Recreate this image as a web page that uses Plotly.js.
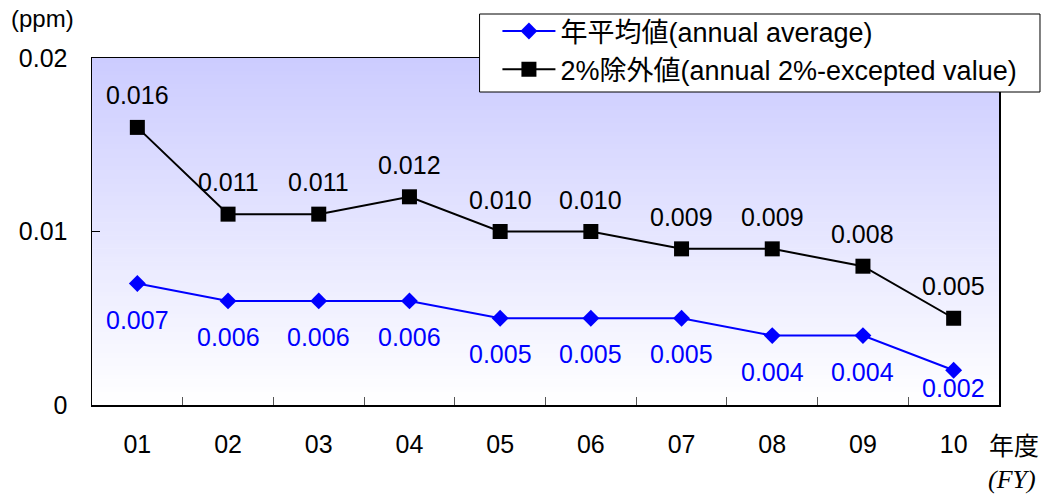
<!DOCTYPE html>
<html>
<head>
<meta charset="utf-8">
<script src="https://cdn.plot.ly/plotly-3.0.1.min.js"></script>
<style>
html,body{margin:0;padding:0;background:#fff;}
#chart{width:1046px;height:494px;}
</style>
</head>
<body>
<div id="chart"></div>
<script>
// ---- data ----
const years = ['01','02','03','04','05','06','07','08','09','10'];
const annualAverage = [0.007, 0.006, 0.006, 0.006, 0.005, 0.005, 0.005, 0.004, 0.004, 0.002];
const excepted2pct = [0.016, 0.011, 0.011, 0.012, 0.010, 0.010, 0.009, 0.009, 0.008, 0.005];
const seriesNames = ['年平均値(annual average)', '2%除外値(annual 2%-excepted value)'];
const yTickVals = [0, 0.01, 0.02];
const yTickText = ['0', '0.01', '0.02'];

const FONT = '"Liberation Sans", Arial, "Noto Sans CJK JP", sans-serif';
const FS = 25;

const traces = [
  {
    x: years, y: annualAverage, name: seriesNames[0],
    type: 'scatter', mode: 'lines+markers',
    line: {color: '#0000ff', width: 2},
    marker: {symbol: 'diamond', size: 13, color: '#0000ff'},
    hoverinfo: 'skip'
  },
  {
    x: years, y: excepted2pct, name: seriesNames[1],
    type: 'scatter', mode: 'lines+markers',
    line: {color: '#000000', width: 2},
    marker: {symbol: 'square', size: 15, color: '#000000'},
    hoverinfo: 'skip'
  }
];

// background gradient strips (plot area)
const shapes = [];
const N = 80;
function mix(a, b, t){ return Math.round(a + (b - a) * t); }
for (let i = 0; i < N; i++) {
  const t = i / (N - 1); // 0 bottom -> 1 top
  const r = mix(255, 204, t), g = mix(255, 204, t), b = 255;
  shapes.push({
    type: 'rect', xref: 'x domain', yref: 'y domain', layer: 'below',
    x0: 0, x1: 1, y0: i / N, y1: (i + 1) / N + 0.002,
    fillcolor: `rgb(${r},${g},${b})`, line: {width: 0}
  });
}
// legend frame
shapes.push({
  type: 'rect', xref: 'paper', yref: 'paper', layer: 'above',
  x0: 0.4273, x1: 1.0452, y0: 0.902, y1: 1.1268,
  fillcolor: '#ffffff', line: {color: '#000000', width: 1}
});

const annotations = [];
annualAverage.forEach((v, i) => {
  annotations.push({
    x: i, y: v, xref: 'x', yref: 'y', text: v.toFixed(3),
    showarrow: false, yshift: (i === annualAverage.length - 1) ? -18 : -36,
    font: {family: FONT, size: FS, color: '#0000ff'}
  });
});
excepted2pct.forEach((v, i) => {
  annotations.push({
    x: i, y: v, xref: 'x', yref: 'y', text: v.toFixed(3),
    showarrow: false, yshift: 32,
    font: {family: FONT, size: FS, color: '#000000'}
  });
});
annotations.push({
  xref: 'paper', yref: 'paper', x: -0.0914, y: 1.115, xanchor: 'left', yanchor: 'middle',
  text: '(ppm)', showarrow: false, font: {family: FONT, size: 24, color: '#000'}
});
annotations.push({
  xref: 'paper', yref: 'paper', x: 1.046, y: -0.112, xanchor: 'right', yanchor: 'middle',
  text: '年度', showarrow: false, font: {family: '"Noto Sans CJK JP", sans-serif', size: 25, color: '#000'}
});
annotations.push({
  xref: 'paper', yref: 'paper', x: 1.043, y: -0.216, xanchor: 'right', yanchor: 'middle',
  text: '<i>(FY)</i>', showarrow: false, font: {family: '"Liberation Serif", serif', size: 26, color: '#000'}
});

const layout = {
  width: 1046, height: 494,
  margin: {l: 92, r: 47, t: 58, b: 89, autoexpand: false},
  paper_bgcolor: '#ffffff', plot_bgcolor: 'rgba(0,0,0,0)',
  font: {family: FONT, size: FS, color: '#000'},
  showlegend: true,
  legend: {
    x: 0.447, y: 1.147, xanchor: 'left', yanchor: 'top',
    bgcolor: 'rgba(0,0,0,0)', borderwidth: 0,
    font: {family: FONT, size: 27, color: '#000'},
    traceorder: 'normal', tracegroupgap: 0, itemwidth: 53
  },
  xaxis: {
    type: 'category', range: [-0.5, 9.5],
    showline: true, linecolor: '#000', linewidth: 1.5, mirror: true,
    ticks: 'inside', ticklen: 8, tickcolor: '#555', tickson: 'boundaries',
    showgrid: false, zeroline: false, ticklabelstandoff: 16,
    tickfont: {family: FONT, size: FS, color: '#000'}
  },
  yaxis: {
    range: [0, 0.02], tickvals: yTickVals, ticktext: yTickText,
    showline: true, linecolor: '#000', linewidth: 1.5, mirror: true,
    ticks: 'inside', ticklen: 8, tickcolor: '#000',
    showgrid: false, zeroline: false, ticklabelstandoff: 18,
    tickfont: {family: FONT, size: FS, color: '#000'}
  },
  shapes: shapes,
  annotations: annotations
};

Plotly.newPlot('chart', traces, layout, {displayModeBar: false, staticPlot: true});
</script>
</body>
</html>
